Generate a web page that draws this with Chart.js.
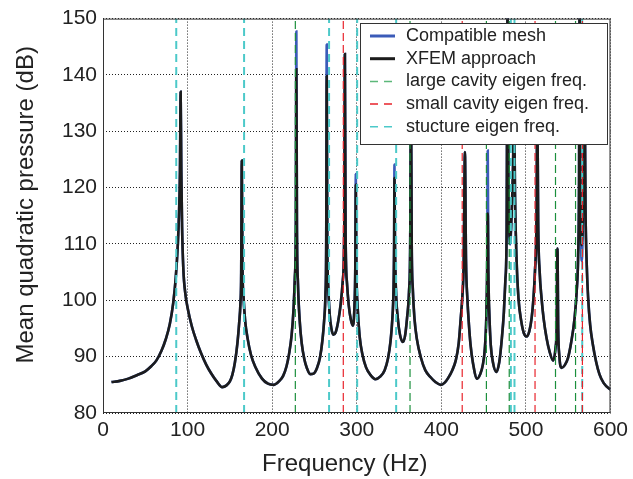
<!DOCTYPE html>
<html>
<head>
<meta charset="utf-8">
<script src="https://cdn.jsdelivr.net/npm/chart.js@4.4.1/dist/chart.umd.min.js"></script>
<style>
  html, body { margin: 0; padding: 0; background: #fff; }
  #wrap { width: 633px; height: 479px; }
</style>
</head>
<body>
<div id="wrap"><canvas id="chart"></canvas></div>
<script>
// frequency response
const freqHz = [
  10, 20, 30, 40, 50, 57, 63, 69, 74, 79, 83, 86, 88.5, 90, 91, 91.8, 92.6, 93.5, 95, 97.5,
  100, 105, 110, 116, 122, 128, 134, 141, 146, 150, 153, 156, 159, 161, 162.5, 163.4, 164.1, 164.9, 166, 168,
  171, 175, 180, 188, 195, 202, 208, 213, 217, 220, 223, 225.3, 226.8, 228, 228.6, 229.3, 230.5, 232.5, 235, 238,
  241, 245, 249, 253, 256.5, 259.5, 261.5, 263, 263.9, 264.5, 265.2, 266.3, 268, 270, 272.3, 275, 278, 281, 283.5, 285.2,
  286, 286.8, 288.5, 290.5, 293, 295.5, 297.3, 298.3, 298.9, 299.6, 301, 303.5, 307, 311, 316, 322, 328, 333, 337, 340,
  342, 343.5, 344.2, 344.6, 345.2, 346.3, 348.5, 351, 354.4, 357, 359.5, 361.8, 363.2, 364.1, 365, 366.3, 368.3, 371, 375.9, 381,
  387.6, 393, 399.3, 404, 408, 413, 417, 420.5, 423, 425, 426.5, 427.9, 429.2, 430.8, 432.5, 434.5, 437.5, 442.3, 446, 449,
  451.5, 453.2, 454.2, 454.9, 455.6, 456.8, 458.5, 461, 465, 468.5, 471.6, 474, 475.7, 477.2, 478.3, 479.6, 481.4, 483.3, 484.8, 486,
  487.2, 488.8, 491.2, 494.5, 497.5, 500.9, 504, 506.8, 509, 510.7, 512.5, 513.5, 514.5, 516.3, 518.5, 521, 524.4, 528, 532.2, 535,
  536.5, 537.3, 538.2, 539.5, 542, 546, 549.8, 553.5, 557.6, 560, 561.8, 562.8, 563.5, 564.5, 566, 567.8, 569.3, 570.5, 572, 573.6,
  576, 579.1, 583, 586.9, 592, 598.6, 600
];
const xfemDb = [
  85.5, 85.7, 86.1, 86.7, 87.4, 88.3, 89.3, 91.0, 93.0, 95.8, 99.5, 104, 110, 116, 123, 137, 123, 113, 105.5, 101,
  98.7, 95.4, 93.0, 90.6, 88.6, 87.0, 85.7, 84.6, 84.9, 85.6, 86.8, 89, 92.5, 96, 99.5, 105, 124.8, 106, 101, 96.5,
  93.2, 90.3, 88.2, 86.1, 85.2, 85.0, 85.6, 86.6, 88.3, 90.5, 93.8, 98.5, 104, 113, 141, 113, 103, 96.5, 92.3, 89.6,
  88.0, 86.9, 87.0, 88.0, 89.8, 93, 96.5, 101, 110, 139.8, 110, 102.5, 97.5, 95.0, 93.9, 94.3, 96.2, 99.3, 103.5, 112,
  143.7, 112, 103, 99.2, 96.6, 95.5, 99, 106, 120.5, 106, 99, 93.5, 90.2, 88.1, 86.8, 86.0, 86.5, 87.6, 89.7, 92.8,
  96.5, 102, 110, 121.7, 110, 102, 96.9, 94, 92.6, 93.6, 96.9, 101.5, 110, 138, 110, 102, 96.7, 93.2, 89.8, 87.6,
  86.3, 85.5, 85.0, 85.4, 86.2, 87.6, 89.3, 92.3, 96.9, 101, 107, 126.3, 107, 100.3, 96, 92.2, 88.8, 86.1, 86.9, 88.5,
  91.5, 97, 105, 115.4, 105, 97.5, 92, 89, 87.3, 89, 93.3, 98, 103.5, 112, 152, 117, 111, 116, 124, 135,
  118, 108, 100.4, 96.3, 94.2, 93.6, 94.5, 96.9, 100.5, 105.1, 114, 135, 114, 105, 100.4, 96.7, 93.3, 90.9, 89.3, 91.5,
  96, 109.2, 95, 90.2, 88.0, 88.5, 89.8, 92.5, 96.9, 101.5, 108, 120, 152, 120, 109.8, 118, 140, 116, 106, 100.4,
  95.6, 92.2, 89.1, 86.9, 85.3, 84.3, 84.2
];
const meshDb = [
  85.5, 85.7, 86.1, 86.7, 87.4, 88.3, 89.3, 91.0, 93.0, 95.8, 99.5, 104, 110, 116, 123, 137, 123, 113, 105.5, 101,
  98.7, 95.4, 93.0, 90.6, 88.6, 87.0, 85.7, 84.6, 84.9, 85.6, 86.8, 89, 92.5, 96, 99.5, 105, 124.8, 106, 101, 96.5,
  93.2, 90.3, 88.2, 86.1, 85.2, 85.0, 85.6, 86.6, 88.3, 90.5, 93.8, 98.5, 104, 113, 147.7, 113, 103, 96.5, 92.3, 89.6,
  88.0, 86.9, 87.0, 88.0, 89.8, 93, 96.5, 101, 110, 145.4, 110, 102.5, 97.5, 95.0, 93.9, 94.3, 96.2, 99.3, 103.5, 112,
  143.7, 112, 103, 99.2, 96.6, 95.5, 99, 106, 122.4, 106, 99, 93.5, 90.2, 88.1, 86.8, 86.0, 86.5, 87.6, 89.7, 92.8,
  96.5, 102, 110, 124.1, 110, 102, 96.9, 94, 92.6, 93.6, 96.9, 101.5, 110, 138, 110, 102, 96.7, 93.2, 89.8, 87.6,
  86.3, 85.5, 85.0, 85.4, 86.2, 87.6, 89.3, 92.3, 96.9, 101, 107, 126.3, 107, 100.3, 96, 92.2, 88.8, 86.1, 86.9, 88.5,
  91.5, 97, 105, 126.6, 105, 97.5, 92, 89, 87.3, 89, 93.3, 98, 103.5, 112, 152, 117, 109.9, 116, 124, 135,
  118, 108, 100.4, 96.3, 94.2, 93.6, 94.5, 96.9, 100.5, 105.1, 114, 135, 114, 105, 100.4, 96.7, 93.3, 90.9, 89.3, 91.5,
  96, 109.2, 95, 90.2, 88.0, 88.5, 89.8, 92.5, 96.9, 101.5, 108, 120, 152, 120, 107, 118, 140, 116, 106, 100.4,
  95.6, 92.2, 89.1, 86.9, 85.3, 84.3, 84.2
];

// eigen frequencies (vertical markers)
const largeCavityHz = [227.4, 363, 453.3, 480.3, 535, 558.7];
const smallCavityHz = [284.1, 424.7, 510.8, 566.8];
const structureHz = [86.6, 166.8, 267.3, 300.5, 346.6, 482.2, 486.5, 566.6];

const xTicks = [0, 100, 200, 300, 400, 500, 600];
const yTicks = [80, 90, 100, 110, 120, 130, 140, 150];

const legendLabels = [
  "Compatible mesh",
  "XFEM approach",
  "large cavity eigen freq.",
  "small cavity eigen freq.",
  "stucture eigen freq.",
];

const FONT = "'Liberation Sans', Arial, Helvetica, sans-serif";
const BLUE = "#3b5bb8";
const BLACK = "#1c1c1c";
const GREEN = "#1b8f3c";
const RED = "#e8232b";
const CYAN = "#4cc9c9";

function toPoints(xs, ys) {
  return xs.map((x, i) => ({ x, y: ys[i] }));
}

function markerPoints(freqs) {
  const lo = yTicks[0];
  const hi = yTicks[yTicks.length - 1];
  const pts = [];
  freqs.forEach((f) => {
    pts.push({ x: f, y: lo }, { x: f, y: hi }, { x: f, y: null });
  });
  return pts;
}

function markerSet(label, freqs, color, width, dash) {
  return {
    label,
    data: markerPoints(freqs),
    borderColor: color,
    borderWidth: width,
    borderDash: dash,
    pointRadius: 0,
    spanGaps: false,
    order: 0,
  };
}

const legendItems = [
  { color: BLUE, width: 3, dash: [] },
  { color: BLACK, width: 3, dash: [] },
  { color: "#5cb87a", width: 1.5, dash: [8, 6] },
  { color: RED, width: 1.5, dash: [8, 6] },
  { color: CYAN, width: 1.5, dash: [8, 6] },
];

const framePlugin = {
  id: "frame",
  afterDraw(chart) {
    const { ctx, chartArea } = chart;
    const { left, top, right, bottom } = chartArea;
    ctx.save();

    // axes box
    ctx.strokeStyle = "#333";
    ctx.lineWidth = 1;
    ctx.strokeRect(left + 0.5, top + 0.5, right - left - 1, bottom - top - 1);

    // axis titles
    ctx.fillStyle = "#222";
    ctx.font = `24px ${FONT}`;
    ctx.textAlign = "center";
    ctx.textBaseline = "alphabetic";
    ctx.fillText("Frequency (Hz)", (left + right) / 2 - 12, 471);
    ctx.save();
    ctx.translate(33, (top + bottom) / 2 - 11);
    ctx.rotate(-Math.PI / 2);
    ctx.fillText("Mean quadratic pressure (dB)", 0, 0);
    ctx.restore();

    // legend
    const box = { x: 360, y: 23, w: 247, h: 121 };
    ctx.fillStyle = "#fff";
    ctx.fillRect(box.x, box.y, box.w, box.h);
    ctx.strokeStyle = "#333";
    ctx.strokeRect(box.x + 0.5, box.y + 0.5, box.w, box.h);
    ctx.font = `18px ${FONT}`;
    ctx.textAlign = "left";
    ctx.textBaseline = "middle";
    legendLabels.forEach((text, i) => {
      const item = legendItems[i];
      const cy = box.y + 13 + i * 22.7;
      ctx.strokeStyle = item.color;
      ctx.lineWidth = item.width;
      ctx.setLineDash(item.dash);
      ctx.beginPath();
      ctx.moveTo(370, cy);
      ctx.lineTo(395, cy);
      ctx.stroke();
      ctx.setLineDash([]);
      ctx.fillStyle = "#222";
      ctx.fillText(text, 406, cy);
    });
    ctx.restore();
  },
};

new Chart(document.getElementById("chart"), {
  type: "line",
  data: {
    datasets: [
      markerSet(legendLabels[2], largeCavityHz, GREEN, 1.2, [8, 4]),
      markerSet(legendLabels[3], smallCavityHz, RED, 1.2, [8, 4]),
      markerSet(legendLabels[4], structureHz, CYAN, 2, [8, 5]),
      {
        label: legendLabels[1],
        data: toPoints(freqHz, xfemDb),
        borderColor: BLACK,
        borderWidth: 2.6,
        pointRadius: 0,
        cubicInterpolationMode: "monotone",
        order: 1,
      },
      {
        label: legendLabels[0],
        data: toPoints(freqHz, meshDb),
        borderColor: BLUE,
        borderWidth: 2.6,
        pointRadius: 0,
        cubicInterpolationMode: "monotone",
        order: 2,
      },
    ],
  },
  options: {
    animation: false,
    responsive: true,
    maintainAspectRatio: false,
    layout: {
      padding: { left: 0, top: 15, right: 19, bottom: 0 },
    },
    scales: {
      x: {
        type: "linear",
        min: xTicks[0],
        max: xTicks[xTicks.length - 1],
        afterBuildTicks: (scale) => {
          scale.ticks = xTicks.map((value) => ({ value }));
        },
        afterFit: (scale) => {
          scale.height = 66;
        },
        ticks: {
          color: "#222",
          padding: 5,
          maxRotation: 0,
          font: { family: FONT, size: 21 },
        },
        grid: {
          color: "#222",
          lineWidth: 1,
          drawTicks: false,
        },
        border: { display: false, dash: [1, 2] },
      },
      y: {
        type: "linear",
        min: yTicks[0],
        max: yTicks[yTicks.length - 1],
        afterBuildTicks: (scale) => {
          scale.ticks = yTicks.map((value) => ({ value }));
        },
        afterFit: (scale) => {
          scale.width = 103;
        },
        ticks: {
          color: "#222",
          padding: 6,
          font: { family: FONT, size: 21 },
        },
        grid: {
          color: "#222",
          lineWidth: 1,
          drawTicks: false,
        },
        border: { display: false, dash: [1, 2] },
      },
    },
    plugins: {
      legend: { display: false },
      tooltip: { enabled: false },
    },
  },
  plugins: [framePlugin],
});
</script>
</body>
</html>
